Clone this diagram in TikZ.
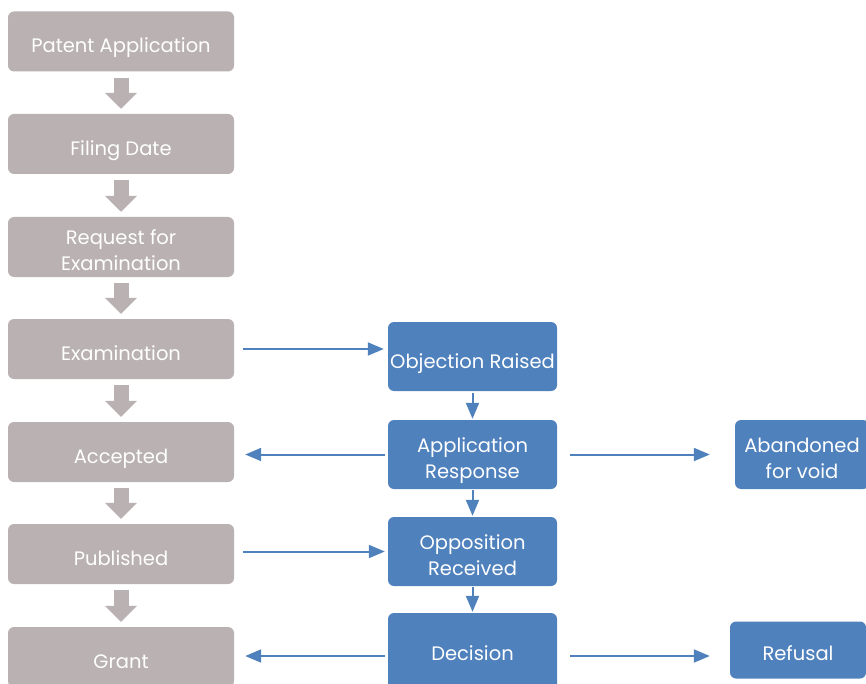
\documentclass[tikz,border=0pt]{standalone}
\usepackage{fontspec}
\setmainfont{Poppins}
\usetikzlibrary{arrows.meta,calc}
\definecolor{greybox}{HTML}{B9B1B2}
\definecolor{bluebox}{HTML}{4F81BD}
\begin{document}
\begin{tikzpicture}[x=1pt,y=-1pt,
  boxfont/.style={font=\fontsize{19.5}{26}\selectfont, text height=23pt, text depth=0pt},
  twoline/.style={text height=48pt, text depth=0pt},
  gbox/.style={fill=greybox, rounded corners=6pt, minimum width=226pt, minimum height=60pt, text=white, boxfont, align=center, inner sep=0pt},
  bbox/.style={fill=bluebox, rounded corners=6pt, minimum width=169pt, minimum height=69pt, text=white, boxfont, align=center, inner sep=0pt},
  garrow/.style={draw=greybox, line width=15pt, -{Triangle[width=31pt,length=16pt]}, shorten <=6pt, shorten >=5pt},
  barrow/.style={draw=bluebox, line width=2pt, -{Triangle[width=13pt,length=16pt]}}]
\useasboundingbox (0,0) rectangle (866,684);
\clip (0,0) rectangle (866,684);
% grey column
\node[gbox] (pa) at (121,41.5) {Patent Application};
\node[gbox] (fd) at (121,144) {Filing Date};
\node[gbox, twoline] (rfe) at (121,247) {Request for\\Examination};
\node[gbox] (exam) at (121,349) {Examination};
\node[gbox] (acc) at (121,452) {Accepted};
\node[gbox] (pub) at (121,554) {Published};
\node[gbox] (grant) at (121,657) {Grant};
% blue column
\node[bbox] (obj) at (472.5,356.5) {Objection Raised};
\node[bbox, twoline] (app) at (472.5,454.5) {Application\\Response};
\node[bbox, twoline] (opp) at (472.5,551.5) {Opposition\\Received};
\node[bbox, minimum height=80pt, text height=14pt] (dec) at (472.5,653) {Decision};
\node[bbox, twoline, minimum width=134pt] (aband) at (802,454.5) {Abandoned\\for void};
\node[bbox, minimum width=136pt, minimum height=57pt, text height=20pt] (ref) at (798,650) {Refusal};
% grey block arrows
\draw[garrow] (pa.south) -- (fd.north);
\draw[garrow] (fd.south) -- (rfe.north);
\draw[garrow] (rfe.south) -- (exam.north);
\draw[garrow] (exam.south) -- (acc.north);
\draw[garrow] (acc.south) -- (pub.north);
\draw[garrow] (pub.south) -- (grant.north);
% blue vertical arrows
\draw[barrow, shorten <=2pt, shorten >=1pt] (obj.south) -- (app.north);
\draw[barrow, shorten <=1pt, shorten >=1pt] (app.south) -- (opp.north);
\draw[barrow, shorten <=1pt, shorten >=1pt] (opp.south) -- (dec.north);
% blue horizontal arrows
\draw[barrow] ([xshift=9pt]exam.east) -- ([xshift=-4pt]exam.east -| obj.west);
\draw[barrow] ([xshift=-3pt]app.west) -- ([xshift=11pt]app.west -| acc.east);
\draw[barrow] ([xshift=13pt]app.east) -- ([xshift=-25pt]app.east -| aband.west);
\draw[barrow] ([xshift=9pt]opp.west -| pub.east) -- ([xshift=-3pt]opp.west);
\draw[barrow] ([xshift=-3pt,yshift=-3pt]dec.west) -- ([xshift=11pt,yshift=-3pt]dec.west -| grant.east);
\draw[barrow] ([xshift=13pt,yshift=-3pt]dec.east) -- ([xshift=-20pt,yshift=-3pt]dec.east -| ref.west);
\end{tikzpicture}
\end{document}
